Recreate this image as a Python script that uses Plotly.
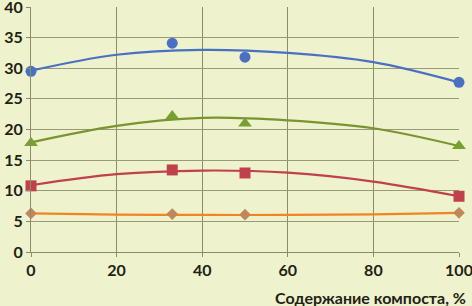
import plotly.graph_objects as go

# measured points
x_pts = [0, 33, 50, 100]
blue_pts = [29.5, 34.1, 31.8, 27.7]
green_pts = [17.8, 22.2, 21.0, 17.3]
red_pts = [10.8, 13.4, 12.9, 9.1]
orange_pts = [6.3, 6.2, 6.1, 6.4]

# trend lines
x_trend = [0, 20, 40, 60, 80, 100]
blue_trend = [29.6, 32.2, 33.0, 32.5, 31.0, 27.7]
green_trend = [17.9, 20.6, 21.9, 21.5, 20.2, 17.3]
red_trend = [10.9, 12.7, 13.3, 12.95, 11.5, 9.1]
orange_trend = [6.3, 6.1, 6.05, 6.05, 6.15, 6.4]

x_ticks = [0, 20, 40, 60, 80, 100]
y_ticks = [0, 5, 10, 15, 20, 25, 30, 35, 40]
x_title = "Содержание компоста, %"

BG = "#eef2cd"
FONT = "Lato"
series = [
    (blue_pts, blue_trend, "#4a70c2", "circle", 11, "#4a70c2"),
    (green_pts, green_trend, "#7a9430", "triangle-up", 12, "#76a030"),
    (red_pts, red_trend, "#c0404c", "square", 11, "#c0404c"),
    (orange_pts, orange_trend, "#f08522", "diamond", 9, "#c0885a"),
]

fig = go.Figure()
for pts, tr, lc, sym, sz, mc in series:
    fig.add_trace(go.Scatter(x=x_trend, y=tr, mode="lines", line=dict(color=lc, width=2.2, shape="spline", smoothing=1.0),
                             showlegend=False, hoverinfo="skip"))
for pts, tr, lc, sym, sz, mc in series:
    fig.add_trace(go.Scatter(x=x_pts, y=pts, mode="markers", marker=dict(symbol=sym, size=sz, color=mc, line=dict(width=0)),
                             showlegend=False, cliponaxis=False))

fig.update_layout(
    width=472, height=306,
    margin=dict(l=31, r=13, t=7, b=54),
    paper_bgcolor=BG, plot_bgcolor=BG,
    font=dict(family=FONT, color="#222214"),
)
fig.update_xaxes(range=[0, 100], tickvals=x_ticks, ticktext=[f"<b>{v}</b>" for v in x_ticks],
                 showgrid=True, gridcolor="#8c8c6c", gridwidth=1, automargin=False, ticklabeloverflow="allow",
                 showline=True, linecolor="#8c8c6c", linewidth=1, ticks="outside", ticklen=4, tickcolor="#8c8c6c",
                 tickfont=dict(size=16, family=FONT), zeroline=False)
fig.update_yaxes(range=[0, 40], tickvals=y_ticks, ticktext=[f"<b>{v}</b>" for v in y_ticks],
                 showgrid=True, gridcolor="#9a9a74", gridwidth=1.3, automargin=False, ticklabeloverflow="allow",
                 showline=True, linecolor="#8c8c6c", linewidth=1, ticks="outside", ticklen=4, tickcolor="#8c8c6c",
                 tickfont=dict(size=16, family=FONT), zeroline=False)
fig.add_annotation(text=f"<b>{x_title}</b>", xref="paper", yref="paper", x=1.021, y=-0.184, xanchor="right", yanchor="middle",
                   showarrow=False, font=dict(size=16, family=FONT, color="#222214"))
fig.write_html("out.html", config={"displayModeBar": False},
               post_script="document.body.style.margin='0';document.body.style.background='#eef2cd';")
